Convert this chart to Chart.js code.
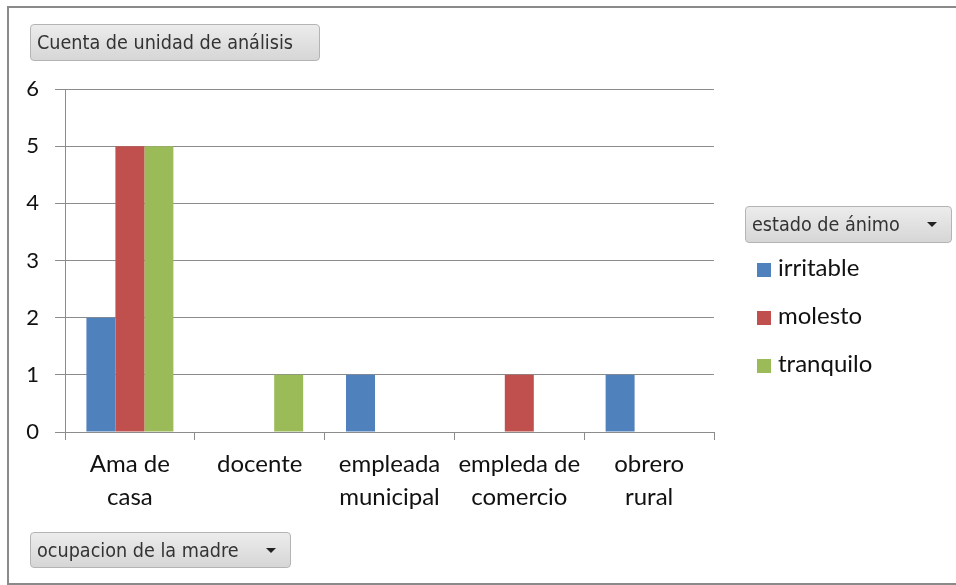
<!DOCTYPE html>
<html>
<head>
<meta charset="utf-8">
<script src="https://cdn.jsdelivr.net/npm/chart.js@4.4.1/dist/chart.umd.min.js"></script>
<style>
    body { margin: 0; background: #fff; }
    #wrap { position: relative; width: 956px; height: 585px; overflow: hidden; }
    #frame { position: absolute; left: 7px; top: 6px; width: 960px; height: 575px; border: 2px solid #8a8a8a; box-sizing: content-box; }
    canvas { position: absolute; left: 0; top: 0; }
    .btn {
        position: absolute; box-sizing: border-box;
        border: 1px solid #b4b4b4; border-radius: 4px;
        background: linear-gradient(#ececec, #d6d6d6);
        font-family: "DejaVu Sans Condensed", "DejaVu Sans", sans-serif;
        font-size: 19.6px; color: #333;
        padding-left: 6px; line-height: 35px; white-space: nowrap;
    }
    .arrow {
        position: absolute; right: 14px; top: 15px;
        width: 0; height: 0;
        border-left: 5px solid transparent; border-right: 5px solid transparent;
        border-top: 5px solid #222;
    }
    .leg { position: absolute; left: 757px; font-family: Lato, sans-serif; font-size: 24px; color: #111; white-space: nowrap; }
    .leg span { display: inline-block; width: 14px; height: 14px; margin-right: 7px; vertical-align: -1px; }
</style>
</head>
<body>
<div id="wrap">
    <div id="frame"></div>
    <canvas id="myChart" width="956" height="585"></canvas>
    <div class="btn" style="left:30px;top:24px;width:290px;height:37px;">Cuenta de unidad de análisis</div>
    <div class="btn" style="left:745px;top:206px;width:207px;height:37px;">estado de ánimo<div class="arrow"></div></div>
    <div class="btn" style="left:30px;top:532px;width:261px;height:36px;">ocupacion de la madre<div class="arrow"></div></div>
    <div id="legend"></div>
</div>
<script>
var categories = [["Ama de", "casa"], "docente", ["empleada", "municipal"], ["empleda de", "comercio"], ["obrero", "rural"]];
var seriesNames = ["irritable", "molesto", "tranquilo"];
var irritable = [2, 0, 1, 0, 1];
var molesto = [5, 0, 0, 1, 0];
var tranquilo = [5, 1, 0, 0, 0];
var yTicks = [0, 1, 2, 3, 4, 5, 6];
var colors = ['#4F81BD', '#C0504D', '#9BBB59'];

var gridColor = '#8c8c8c';

var myChart = new Chart("myChart", {
    type: "bar",
    data: {
        labels: categories,
        datasets: [irritable, molesto, tranquilo].map(function (d, i) {
            return {
                label: seriesNames[i],
                data: d,
                backgroundColor: colors[i],
                borderWidth: 0,
                categoryPercentage: 0.67,
                barPercentage: 1.0
            };
        })
    },
    options: {
        responsive: false,
        animation: false,
        layout: { padding: { top: 89, right: 242, bottom: 0, left: 0 } },
        plugins: {
            legend: { display: false },
            title: { display: false },
            tooltip: { enabled: false }
        },
        scales: {
            x: {
                offset: true,
                afterFit: function (scale) { scale.height = 153; },
                grid: { offset: true, drawOnChartArea: false, drawTicks: true, tickLength: 8, color: gridColor },
                border: { color: gridColor },
                ticks: {
                    color: '#111', padding: 8,
                    font: { family: 'Lato', size: 24, lineHeight: 1.38 },
                    maxRotation: 0, autoSkip: false
                }
            },
            y: {
                min: yTicks[0],
                max: yTicks[yTicks.length - 1],
                afterFit: function (scale) { scale.width = 65; },
                afterBuildTicks: function (scale) {
                    scale.ticks = yTicks.map(function (v) { return { value: v }; });
                },
                grid: { color: gridColor, tickLength: 10 },
                border: { color: gridColor },
                ticks: {
                    color: '#111', padding: 16,
                    font: { family: 'Lato', size: 22 }
                }
            }
        }
    }
});

var legendTop = [252, 300, 348];
var html = "";
myChart.data.datasets.forEach(function (ds, i) {
    html += '<div class="leg" style="top:' + legendTop[i] + 'px"><span style="background:' + ds.backgroundColor + '"></span>' + ds.label + '</div>';
});
document.getElementById("legend").innerHTML = html;
</script>
</body>
</html>
